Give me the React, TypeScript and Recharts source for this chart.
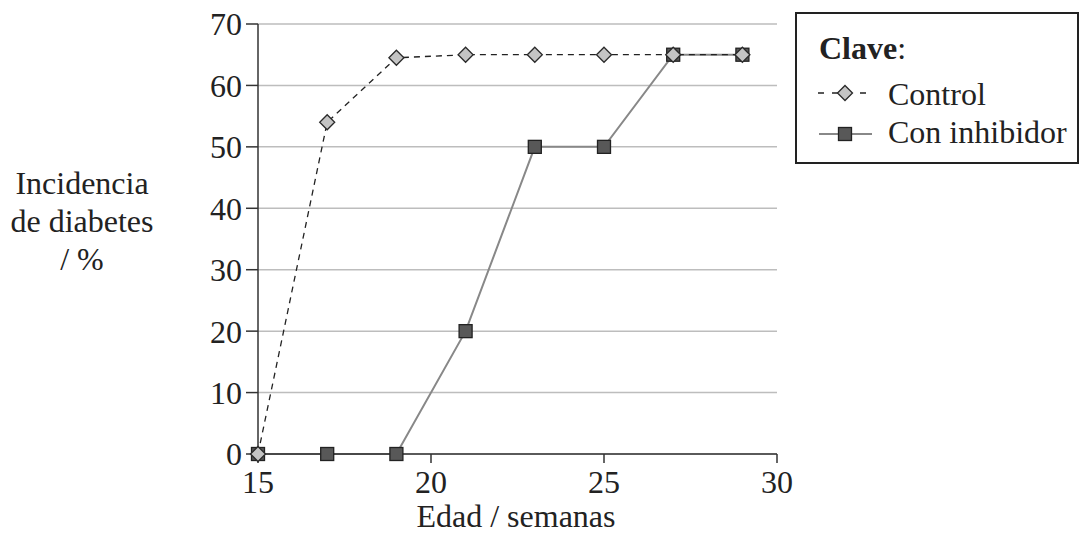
import { CartesianGrid, Label, Line, LineChart, XAxis, YAxis } from 'recharts';

// #region Sample data
const weeks = [15, 17, 19, 21, 23, 25, 27, 29];
const control = [0, 54, 64.5, 65, 65, 65, 65, 65];
const inhibitor = [0, 0, 0, 20, 50, 50, 65, 65];
const xTicks = [15, 20, 25, 30];
const yTicks = [0, 10, 20, 30, 40, 50, 60, 70];

const data = weeks.map((w, i) => ({ week: w, control: control[i], inhibitor: inhibitor[i] }));
// #endregion

const FONT = "'Liberation Serif', serif";
const txt = { fontFamily: FONT, fontSize: 32 };

const Diamond = (props: any) => {
    const { cx, cy } = props;
    if (cx == null || cy == null) return null;
    const r = 7.5;
    return (
        <polygon
            points={`${cx},${cy - r} ${cx + r},${cy} ${cx},${cy + r} ${cx - r},${cy}`}
            fill="#c4c4c4"
            stroke="#2a2a2a"
            strokeWidth={1.3}
        />
    );
};

const Square = (props: any) => {
    const { cx, cy } = props;
    if (cx == null || cy == null) return null;
    const h = 6.5;
    return <rect x={cx - h} y={cy - h} width={2 * h} height={2 * h} fill="#585858" stroke="#222" strokeWidth={1.3} />;
};

const YLabel = () => (
    <text textAnchor="middle" style={txt} fill="#222">
        <tspan x={82} y={194}>Incidencia</tspan>
        <tspan x={82} y={232}>de diabetes</tspan>
        <tspan x={82} y={270}>/ %</tspan>
    </text>
);

const XLabel = () => (
    <text x={516} y={527} textAnchor="middle" style={txt} fill="#222">
        Edad / semanas
    </text>
);

const KeyBox = () => (
    <svg width={1081} height={536} style={{ position: 'absolute', left: 0, top: 0, pointerEvents: 'none' }}>
        <rect x={796} y={13} width={282} height={150} fill="#fff" stroke="#222" strokeWidth={2} />
        <text x={819} y={59} style={txt} fill="#222">
            <tspan fontWeight="bold">Clave</tspan>:
        </text>
        <line x1={818} y1={93} x2={873} y2={93} stroke="#222" strokeWidth={1.3} strokeDasharray="6 8" />
        <Diamond cx={845} cy={93} />
        <text x={888} y={105} style={txt} fill="#222">Control</text>
        <line x1={819} y1={134} x2={872} y2={134} stroke="#888" strokeWidth={2} />
        <Square cx={845} cy={134} />
        <text x={888} y={143} style={txt} fill="#222">Con inhibidor</text>
    </svg>
);

export default function App() {
    return (
        <div style={{ position: 'absolute', left: 0, top: 0, width: 1081, height: 536, background: '#fff', fontFamily: FONT }}>
            <LineChart
                width={1081}
                height={536}
                data={data}
                margin={{ top: 24, right: 304, bottom: 22, left: 198 }}
                style={{ fontFamily: FONT }}
            >
                <CartesianGrid vertical={false} stroke="#bdbdbd" strokeWidth={1.5} />
                <XAxis
                    dataKey="week"
                    type="number"
                    domain={[15, 30]}
                    ticks={xTicks}
                    height={60}
                    tickSize={9}
                    tickMargin={7}
                    stroke="#333"
                    strokeWidth={1.5}
                    tick={{ style: txt, fill: '#222' }}
                >
                    <Label content={<XLabel />} />
                </XAxis>
                <YAxis
                    type="number"
                    domain={[0, 70]}
                    ticks={yTicks}
                    width={60}
                    tickSize={12}
                    tickMargin={4}
                    stroke="#333"
                    strokeWidth={1.5}
                    tick={{ style: txt, fill: '#222' }}
                >
                    <Label content={<YLabel />} />
                </YAxis>
                <Line
                    dataKey="inhibitor"
                    stroke="#888"
                    strokeWidth={2}
                    dot={<Square />}
                    activeDot={false}
                    isAnimationActive={false}
                />
                <Line
                    dataKey="control"
                    stroke="#222"
                    strokeWidth={1.3}
                    strokeDasharray="6 5"
                    dot={<Diamond />}
                    activeDot={false}
                    isAnimationActive={false}
                />
            </LineChart>
            <KeyBox />
        </div>
    );
}
